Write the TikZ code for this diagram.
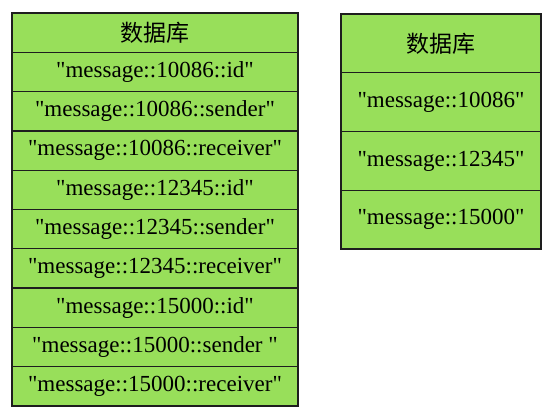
\documentclass[tikz,border=0pt]{standalone}
\usepackage{fontspec}
\setmainfont{Liberation Serif}[Ligatures=TeXOff]
\newfontfamily\cjk{Noto Sans CJK SC}
\definecolor{cellgreen}{RGB}{152,223,90}
\definecolor{cellline}{RGB}{30,30,30}
\begin{document}
\begin{tikzpicture}[x=1pt,y=-1pt,
  cell/.style={draw=cellline, fill=cellgreen, line width=1.3pt, rectangle, inner sep=0pt,
    font=\fontsize{23}{25}\selectfont, anchor=center},
  lcell/.style={cell, minimum width=286pt, minimum height=39.3pt},
  rcell/.style={cell, minimum width=200pt, minimum height=58.75pt}]
\useasboundingbox (0,0) rectangle (554,418);
% left table
\node[lcell] (lh) at (155,32.65) {\cjk 数据库};
\node[lcell] (l1) at (155,71.95) {"message::10086::id"};
\node[lcell] (l2) at (155,111.25) {"message::10086::sender"};
\node[lcell] (l3) at (155,150.55) {"message::10086::receiver"};
\node[lcell] (l4) at (155,189.85) {"message::12345::id"};
\node[lcell] (l5) at (155,229.15) {"message::12345::sender"};
\node[lcell] (l6) at (155,268.45) {"message::12345::receiver"};
\node[lcell] (l7) at (155,307.75) {"message::15000::id"};
\node[lcell] (l8) at (155,347.05) {"message::15000::sender "};
\node[lcell] (l9) at (155,386.35) {"message::15000::receiver"};
% right table
\node[rcell] (rh) at (441,43.4) {\cjk 数据库};
\node[rcell] (r1) at (441,102.1) {"message::10086"};
\node[rcell] (r2) at (441,160.9) {"message::12345"};
\node[rcell] (r3) at (441,219.6) {"message::15000"};
\end{tikzpicture}
\end{document}
